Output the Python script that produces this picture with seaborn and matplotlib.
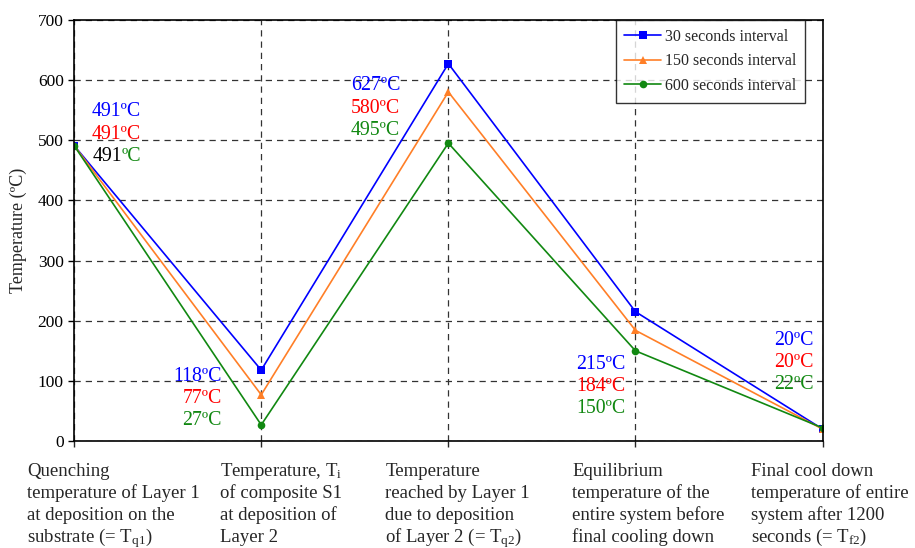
import matplotlib
matplotlib.use("Agg")
import matplotlib.pyplot as plt
import seaborn as sns
import pandas as pd

# ---- data ----
stages = [0, 1, 2, 3, 4]
stage_labels = [
    "Quenching\ntemperature of Layer 1\nat deposition on the\nsubstrate (= T$_{\\mathrm{q1}}$)",
    "Temperature, T$_{\\mathrm{i}}$\nof composite S1\nat deposition of\nLayer 2",
    "Temperature\nreached by Layer 1\ndue to deposition\nof Layer 2 (= T$_{\\mathrm{q2}}$)",
    "Equilibrium\ntemperature of the\nentire system before\nfinal cooling down",
    "Final cool down\ntemperature of entire\nsystem after 1200\nseconds (= T$_{\\mathrm{f2}}$)",
]
series_names = ["30 seconds interval", "150 seconds interval", "600 seconds interval"]
temp_30 = [491, 118, 627, 215, 20]
temp_150 = [491, 77, 580, 184, 20]
temp_600 = [491, 27, 495, 150, 22]
yticks = [0, 100, 200, 300, 400, 500, 600, 700]

# ---- styling ----
sns.set_theme(style="white")
plt.rcParams["font.family"] = ["Liberation Serif", "DejaVu Serif"]
plt.rcParams["mathtext.fontset"] = "custom"
plt.rcParams["mathtext.rm"] = "Liberation Serif"
plt.rcParams["mathtext.it"] = "Liberation Serif:italic"

line_colors = {series_names[0]: "#0000FF", series_names[1]: "#FF7F27", series_names[2]: "#118811"}
markers = {series_names[0]: "s", series_names[1]: "^", series_names[2]: "o"}
text_colors = ["#0000FF", "#FF0000", "#118811"]

df = pd.DataFrame({
    "stage": stages * 3,
    "temp": temp_30 + temp_150 + temp_600,
    "series": [series_names[0]] * 5 + [series_names[1]] * 5 + [series_names[2]] * 5,
})

fig = plt.figure(figsize=(9.15, 5.48), dpi=100)
ax = fig.add_axes([0.081, 0.195, 0.818, 0.769])

sns.lineplot(data=df, x="stage", y="temp", hue="series", style="series",
             palette=line_colors, markers=markers, dashes=False,
             linewidth=1.2, markersize=5.5, markeredgewidth=0, ax=ax)

ax.set_xlim(0, 4)
ax.set_ylim(0, 700)
ax.set_yticks(yticks)
ax.set_xticks(stages)
ax.set_xticklabels([""] * 5)
ax.set_xlabel("")
ax.set_ylabel("Temperature (ºC)", fontsize=13, labelpad=8)
ax.tick_params(axis="y", labelsize=12.5, direction="out", length=4, width=1, colors="black", left=True)
ax.tick_params(axis="x", direction="out", length=4, width=1, bottom=True)

for s in ["left", "bottom", "top", "right"]:
    ax.spines[s].set_color("black")
    ax.spines[s].set_linewidth(1.2)

ax.grid(True, color="#333333", linestyle=(0, (5, 4)), linewidth=0.9)
ax.set_axisbelow(True)

# category labels below axis, line by line on fixed baselines
label_offsets = [-0.251, -0.219, -0.337, -0.337, -0.385]
first_baseline_pt = 25.0
line_step_pt = 15.9
for i, (lab, off) in enumerate(zip(stage_labels, label_offsets)):
    for j, line in enumerate(lab.split("\n")):
        ax.annotate(line, xy=(i + off, 0), xycoords=ax.get_xaxis_transform(),
                    xytext=(0, -(first_baseline_pt + j * line_step_pt)),
                    textcoords="offset points", ha="left", va="baseline",
                    fontsize=13.5, annotation_clip=False)

# annotations
all_series = [temp_30, temp_150, temp_600]
anno_pos = [  # (x, first y, ha)
    (0.225, 547, "center"),
    (0.79, 108, "right"),
    (1.743, 590, "right"),
    (2.947, 128, "right"),
    (3.952, 168, "right"),
]
step = 37
fs_anno = 14.3
for i, (x, y0, ha) in enumerate(anno_pos):
    for k, ser in enumerate(all_series):
        y = y0 - k * step
        if i == 0 and k == 2:
            ax.text(x + 0.03, y, f"{ser[i]}", ha="right", va="center", fontsize=fs_anno, color="black")
            ax.text(x + 0.03, y, "ºC", ha="left", va="center", fontsize=fs_anno, color=text_colors[k])
            continue
        ax.text(x, y, f"{ser[i]}ºC", ha=ha, va="center", fontsize=fs_anno, color=text_colors[k])

leg = ax.legend(loc="upper right", bbox_to_anchor=(0.977, 1.0), frameon=True,
                fancybox=False, edgecolor="black", fontsize=11.5, title=None,
                borderpad=0.55, labelspacing=0.55, handlelength=2.3,
                handletextpad=0.25, borderaxespad=0)
leg.get_frame().set_linewidth(1.0)

fig.savefig("out.png", dpi=100)
